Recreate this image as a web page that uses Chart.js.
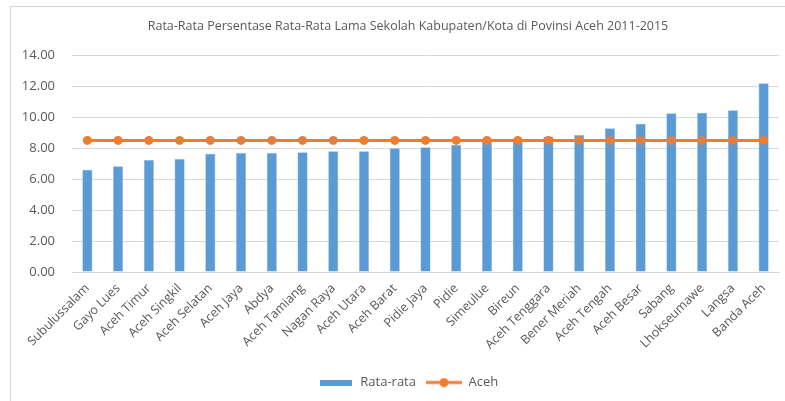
<!DOCTYPE html>
<html>
<head>
<meta charset="utf-8">
<script src="https://cdn.jsdelivr.net/npm/chart.js@4/dist/chart.umd.min.js"></script>
<style>
  html, body { margin: 0; padding: 0; background: #fff; }
  #wrap { position: relative; width: 785px; height: 401px; overflow: hidden; }
  #frame { position: absolute; left: 10px; top: 6px; width: 800px; height: 420px;
           border-left: 1px solid #d4d4d4; border-top: 1px solid #d4d4d4; }
  #chart { position: absolute; left: 0; top: 0; }
</style>
</head>
<body>
<div id="wrap">
  <div id="frame"></div>
  <canvas id="chart" width="816" height="401"></canvas>
</div>
<script>
const kabupaten = ['Subulussalam', 'Gayo Lues', 'Aceh Timur', 'Aceh Singkil', 'Aceh Selatan',
  'Aceh Jaya', 'Abdya', 'Aceh Tamiang', 'Nagan Raya', 'Aceh Utara', 'Aceh Barat', 'Pidie Jaya',
  'Pidie', 'Simeulue', 'Bireun', 'Aceh Tenggara', 'Bener Meriah', 'Aceh Tengah', 'Aceh Besar',
  'Sabang', 'Lhokseumawe', 'Langsa', 'Banda Aceh'];
const rataRata = [6.60, 6.82, 7.23, 7.29, 7.63, 7.68, 7.68, 7.72, 7.79, 7.79, 7.99, 8.05,
  8.21, 8.40, 8.52, 8.74, 8.84, 9.27, 9.57, 10.24, 10.28, 10.43, 12.17];
const aceh = [8.49, 8.49, 8.49, 8.49, 8.49, 8.49, 8.49, 8.49, 8.49, 8.49, 8.49, 8.49,
  8.49, 8.49, 8.49, 8.49, 8.49, 8.49, 8.49, 8.49, 8.49, 8.49, 8.49];
const yTicks = [0, 2, 4, 6, 8, 10, 12, 14];

const BLUE = '#5b9bd5';
const ORANGE = '#ed7d31';
const TEXT = '#595959';
const FONT = "'Open Sans', sans-serif";

// legend keys drawn as small canvases
function barKey() {
  const c = document.createElement('canvas');
  c.width = 32; c.height = 6;
  const g = c.getContext('2d');
  g.fillStyle = BLUE;
  g.fillRect(0, 0, 32, 6);
  return c;
}
function lineKey() {
  const c = document.createElement('canvas');
  c.width = 36; c.height = 10;
  const g = c.getContext('2d');
  g.strokeStyle = ORANGE;
  g.lineWidth = 3;
  g.beginPath(); g.moveTo(0, 5); g.lineTo(36, 5); g.stroke();
  g.fillStyle = ORANGE;
  g.beginPath(); g.arc(18, 5, 4.5, 0, Math.PI * 2); g.fill();
  return c;
}
const keys = [barKey(), lineKey()];

// canvas is wider than the window: the chart frame runs past the right edge,
// so title and legend centre on the full frame, not on the visible crop
new Chart(document.getElementById('chart'), {
  data: {
    labels: kabupaten,
    datasets: [
      {
        type: 'line',
        label: 'Aceh',
        data: aceh,
        borderColor: ORANGE,
        backgroundColor: ORANGE,
        borderWidth: 3,
        pointRadius: 4.5,
        pointBackgroundColor: ORANGE,
        pointBorderWidth: 0,
        order: 1
      },
      {
        type: 'bar',
        label: 'Rata-rata',
        data: rataRata,
        backgroundColor: BLUE,
        borderColor: '#8fbbe4',
        borderWidth: 0.6,
        categoryPercentage: 1,
        barPercentage: 0.33,
        order: 2
      }
    ]
  },
  options: {
    responsive: false,
    animation: false,
    layout: { padding: { left: 0, right: 0, top: 0, bottom: 2 } },
    plugins: {
      title: {
        display: true,
        text: 'Rata-Rata Persentase Rata-Rata Lama Sekolah Kabupaten/Kota di Povinsi Aceh 2011-2015',
        color: TEXT,
        font: { family: FONT, size: 12.5, weight: 'normal' },
        padding: { top: 19, bottom: 21 }
      },
      legend: {
        position: 'bottom',
        labels: {
          color: TEXT,
          font: { family: FONT, size: 13 },
          usePointStyle: true,
          pointStyleWidth: 36,
          boxHeight: 10,
          padding: 10,
          generateLabels: () => [
            { text: 'Rata-rata', pointStyle: keys[0], fontColor: TEXT, datasetIndex: 1, lineWidth: 0 },
            { text: 'Aceh', pointStyle: keys[1], fontColor: TEXT, datasetIndex: 0, lineWidth: 0 }
          ]
        }
      },
      tooltip: { enabled: false }
    },
    scales: {
      x: {
        offset: true,
        grid: { display: false },
        border: { display: true, color: '#d9d9d9' },
        ticks: {
          color: TEXT,
          font: { family: FONT, size: 12.5 },
          minRotation: 45,
          maxRotation: 45,
          autoSkip: false,
          padding: 1
        },
        afterFit: s => { s.height = 94; }
      },
      y: {
        min: 0,
        max: 14,
        afterBuildTicks: s => { s.ticks = yTicks.map(v => ({ value: v })); },
        grid: { color: '#d9d9d9', drawTicks: false },
        border: { display: false },
        ticks: {
          color: TEXT,
          font: { family: FONT, size: 13 },
          padding: 17,
          callback: v => Number(v).toFixed(2)
        },
        afterFit: s => { s.width = 72; }
      },
      // empty right-hand axis, only to keep the plot's right edge at the frame margin
      spacer: {
        position: 'right',
        min: 0,
        max: 14,
        grid: { display: false },
        border: { display: false },
        ticks: { display: false },
        afterFit: s => { s.width = 37; }
      }
    }
  }
});
</script>
</body>
</html>
